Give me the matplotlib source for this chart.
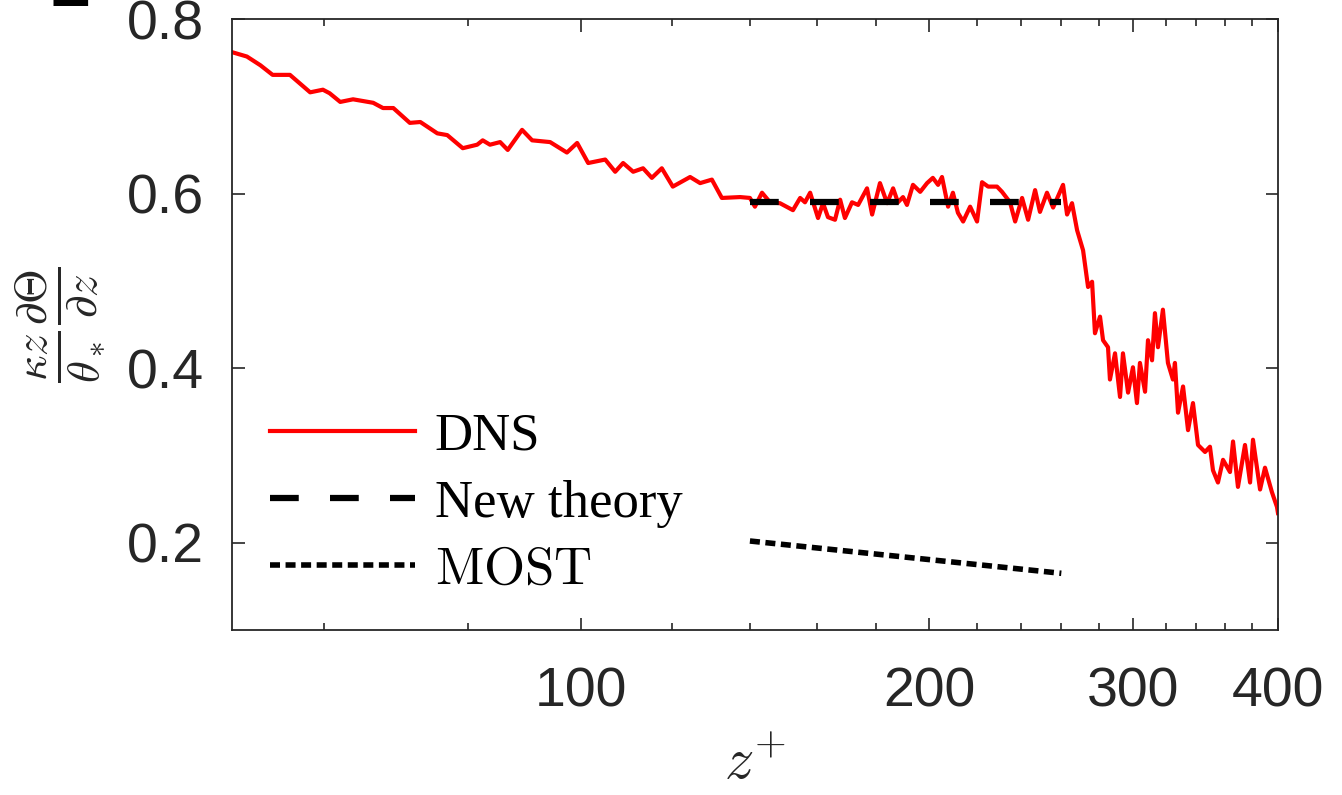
import matplotlib
matplotlib.use("Agg")
import matplotlib.pyplot as plt
from matplotlib.ticker import FixedLocator, NullFormatter

plt.rcParams['mathtext.fontset'] = 'cm'

# DNS profile
dns_z = [50.0, 51.5, 52.9, 54.2, 56.1, 58.4, 59.9, 60.7, 62.0, 63.6,
         66.2, 67.5, 68.9, 71.2, 72.7, 75.2, 76.7, 79.1, 81.4, 82.3,
         83.5, 85.2, 86.5, 89.0, 90.8, 94.1, 97.3, 99.3, 101.5, 105.0,
         107.1, 108.8, 111.0, 113.2, 115.2, 117.5, 120.1, 124.3, 126.8, 129.8,
         132.4, 137.3, 140.0, 141.4, 143.4, 145.7, 148.6, 152.5, 154.7, 156.2,
         157.8, 160.3, 161.9, 163.5, 165.8, 167.5, 169.1, 171.5, 173.6, 176.7,
         178.5, 181.3, 183.9, 186.1, 187.9, 189.8, 191.3, 193.6, 196.4, 199.1,
         201.4, 203.5, 205.1, 207.6, 209.6, 211.7, 213.9, 216.9, 219.9, 222.1,
         224.8, 228.8, 231.1, 234.8, 237.2, 240.5, 243.4, 246.8, 249.2, 252.7,
         255.8, 260.9, 263.0, 265.6, 268.3, 271.5, 274.2, 276.4, 278.0, 280.8,
         282.5, 285.3, 286.4, 289.3, 292.2, 293.9, 296.9, 299.8, 302.2, 304.0,
         307.1, 308.9, 311.4, 313.2, 315.1, 318.2, 321.4, 324.6, 325.9, 327.9,
         331.2, 334.5, 337.8, 341.2, 346.0, 349.4, 351.5, 355.0, 358.6, 363.6,
         365.8, 369.4, 374.6, 378.4, 380.6, 386.0, 389.8, 395.2, 399.2, 400.0]
dns_v = [0.762, 0.757, 0.747, 0.736, 0.736, 0.716, 0.719, 0.715, 0.705, 0.708,
         0.704, 0.698, 0.698, 0.681, 0.682, 0.669, 0.667, 0.652, 0.656, 0.661,
         0.656, 0.659, 0.650, 0.673, 0.661, 0.659, 0.647, 0.658, 0.635, 0.639,
         0.625, 0.635, 0.625, 0.629, 0.618, 0.629, 0.608, 0.619, 0.612, 0.616,
         0.595, 0.596, 0.595, 0.585, 0.601, 0.590, 0.589, 0.581, 0.595, 0.590,
         0.601, 0.572, 0.589, 0.573, 0.570, 0.593, 0.572, 0.590, 0.587, 0.606,
         0.576, 0.612, 0.589, 0.606, 0.590, 0.596, 0.587, 0.610, 0.602, 0.612,
         0.618, 0.610, 0.619, 0.585, 0.601, 0.578, 0.568, 0.585, 0.568, 0.613,
         0.608, 0.608, 0.602, 0.590, 0.568, 0.595, 0.570, 0.604, 0.579, 0.601,
         0.584, 0.610, 0.576, 0.589, 0.558, 0.535, 0.493, 0.499, 0.440, 0.459,
         0.432, 0.424, 0.387, 0.417, 0.367, 0.417, 0.372, 0.401, 0.360, 0.406,
         0.373, 0.432, 0.409, 0.463, 0.424, 0.467, 0.406, 0.387, 0.406, 0.349,
         0.379, 0.329, 0.360, 0.312, 0.304, 0.310, 0.283, 0.269, 0.295, 0.281,
         0.316, 0.264, 0.312, 0.269, 0.318, 0.261, 0.286, 0.258, 0.241, 0.234]

# theory curves
theory_z = [140, 260]
new_theory_v = [0.59, 0.59]
most_v = [0.202, 0.165]

xticks = [100, 200, 300, 400]
minor_xticks = [60, 80, 120, 140, 160, 180, 220, 240, 260, 280, 320, 340, 360, 380]
yticks = [0.2, 0.4, 0.6, 0.8]

fig = plt.figure(figsize=(13.42, 7.95), dpi=100)
ax = fig.add_axes([0.1729, 0.2075, 0.7794, 0.7686])

ax.plot(dns_z, dns_v, color='#ff0000', lw=3.0, label='DNS')
ax.plot(theory_z, new_theory_v, color='black', lw=4.5, dashes=(4.6, 5.0),
        dash_capstyle='butt', label='New theory')
ax.plot(theory_z, most_v, color='black', lw=4.0, dashes=(1.8, 1.0),
        dash_capstyle='butt', label=r'$\mathrm{MOST}$')

ax.set_xscale('log')
ax.set_xlim(50, 400)
ax.set_ylim(0.1, 0.8)
ax.xaxis.set_major_locator(FixedLocator(xticks))
ax.xaxis.set_minor_locator(FixedLocator(minor_xticks))
ax.xaxis.set_minor_formatter(NullFormatter())
ax.set_xticklabels([str(t) for t in xticks])
ax.set_yticks(yticks)
ax.set_yticklabels(['0.2', '0.4', '0.6', '0.8'])

tick_color = '#262626'
ax.tick_params(which='both', direction='in', top=True, right=True,
               colors=tick_color, width=1.2)
ax.tick_params(which='major', length=9, labelsize=40, pad=20)
ax.tick_params(which='minor', length=5)
ax.tick_params(axis='x', which='major', pad=26)
for lbl in ax.get_xticklabels() + ax.get_yticklabels():
    lbl.set_family('Liberation Sans')
    lbl.set_color(tick_color)
for s in ax.spines.values():
    s.set_linewidth(1.3)
    s.set_color(tick_color)

ax.set_xlabel(r'$z^{+}$', fontsize=42, color=tick_color)
ax.xaxis.set_label_coords(0.5, -0.17)
ax.set_ylabel(r'$\frac{\kappa z}{\theta_*}\frac{\partial\Theta}{\partial z}$',
              fontsize=46, color=tick_color)
ax.yaxis.set_label_coords(-0.12, 0.5)

leg = ax.legend(loc='center left', bbox_to_anchor=(0.036, 0.207), frameon=False,
                prop={'family': 'Liberation Serif', 'size': 38},
                handlelength=2.75, handletextpad=0.38, labelspacing=0.36,
                borderpad=0, borderaxespad=0)

# cropped panel label at the top-left corner
fig.text(0.037, 0.993, '2', fontsize=60, fontweight='bold',
         family='Liberation Serif', va='baseline')

fig.savefig('out.png', dpi=100)
